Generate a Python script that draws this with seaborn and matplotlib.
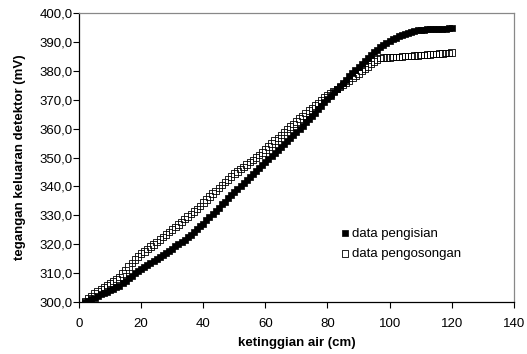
import numpy as np
import pandas as pd
import matplotlib
matplotlib.use("Agg")
import matplotlib.pyplot as plt
import seaborn as sns
from matplotlib.ticker import FuncFormatter

# ---- data ----
height_cm = list(range(2, 121))

filling_mV = [
    300.2, 300.6, 301.0, 301.6, 302.2, 302.7, 303.2, 303.7, 304.2, 304.7,
    305.2, 305.8, 306.6, 307.4, 308.3, 309.1, 310.0, 310.9, 311.6, 312.3,
    313.0, 313.6, 314.3, 315.0, 315.7, 316.4, 317.1, 317.8, 318.5, 319.3,
    320.0, 320.8, 321.6, 322.5, 323.4, 324.3, 325.2, 326.2, 327.2, 328.3,
    329.4, 330.5, 331.6, 332.7, 333.8, 334.8, 335.9, 337.0, 338.0, 339.1,
    340.1, 341.2, 342.2, 343.3, 344.3, 345.4, 346.4, 347.5, 348.5, 349.5,
    350.6, 351.6, 352.6, 353.6, 354.6, 355.7, 356.7, 357.8, 358.8, 359.9,
    361.0, 362.1, 363.2, 364.3, 365.5, 366.7, 367.9, 369.1, 370.2, 371.4,
    372.5, 373.6, 374.7, 375.8, 376.9, 378.0, 379.1, 380.2, 381.3, 382.4,
    383.5, 384.5, 385.5, 386.4, 387.3, 388.1, 388.9, 389.6, 390.2, 390.8,
    391.3, 391.8, 392.3, 392.7, 393.1, 393.4, 393.7, 393.9, 394.1, 394.2,
    394.3, 394.3, 394.4, 394.4, 394.5, 394.5, 394.5, 394.6, 394.6,
]

emptying_mV = [
    300.5, 301.3, 302.2, 303.0, 303.9, 304.6, 305.3, 306.0, 306.6, 307.3,
    308.0, 308.7, 309.9, 311.1, 312.3, 313.5, 314.7, 315.9, 316.8, 317.6,
    318.4, 319.2, 320.0, 320.8, 321.7, 322.5, 323.4, 324.2, 325.1, 326.0,
    326.9, 327.8, 328.7, 329.6, 330.5, 331.4, 332.3, 333.3, 334.4, 335.5,
    336.5, 337.5, 338.5, 339.5, 340.5, 341.5, 342.5, 343.5, 344.4, 345.2,
    346.0, 346.8, 347.6, 348.4, 349.2, 350.0, 350.8, 351.8, 352.8, 353.8,
    354.8, 355.8, 356.8, 357.8, 358.8, 359.8, 360.7, 361.6, 362.5, 363.5,
    364.4, 365.3, 366.2, 367.1, 368.0, 368.9, 369.8, 370.7, 371.5, 372.2,
    372.9, 373.6, 374.3, 375.0, 375.8, 376.6, 377.4, 378.2, 379.0, 379.8,
    380.6, 381.4, 382.3, 383.1, 383.9, 384.4, 384.5, 384.6, 384.6, 384.7,
    384.7, 384.8, 384.9, 385.0, 385.0, 385.1, 385.2, 385.3, 385.4, 385.4,
    385.5, 385.6, 385.7, 385.8, 385.9, 386.0, 386.1, 386.1, 386.2,
]

series_names = ["data pengisian", "data pengosongan"]
x_ticks = [0, 20, 40, 60, 80, 100, 120, 140]
y_ticks = [300, 310, 320, 330, 340, 350, 360, 370, 380, 390, 400]
x_label = "ketinggian air (cm)"
y_label = "tegangan keluaran detektor (mV)"

df_fill = pd.DataFrame({"x": height_cm, "y": filling_mV})
df_empty = pd.DataFrame({"x": height_cm, "y": emptying_mV})

sns.set_style("white")
plt.rcParams["font.family"] = ["Liberation Sans", "DejaVu Sans"]
plt.rcParams["text.color"] = "black"
plt.rcParams["axes.labelcolor"] = "black"
plt.rcParams["xtick.color"] = "black"
plt.rcParams["ytick.color"] = "black"

fig = plt.figure(figsize=(5.27, 3.54), dpi=100)
ax = fig.add_axes([0.150, 0.146, 0.825, 0.818])

sns.scatterplot(data=df_fill, x="x", y="y", ax=ax, marker="s", s=21,
                color="black", edgecolor="black", linewidth=0.5,
                label=series_names[0], zorder=2)
sns.scatterplot(data=df_empty, x="x", y="y", ax=ax, marker="s", s=22,
                facecolors="none", edgecolor="black", linewidth=0.6,
                label=series_names[1], zorder=3)

ax.set_xlim(0, 140)
ax.set_ylim(300, 400)
ax.set_xticks(x_ticks)
ax.set_yticks(y_ticks)
ax.yaxis.set_major_formatter(FuncFormatter(lambda v, p: f"{v:.1f}".replace(".", ",")))
ax.tick_params(axis="both", direction="out", length=4, width=0.8, color="black",
               labelsize=9.5, labelcolor="black", bottom=True, left=True)
ax.tick_params(axis="x", pad=7)
ax.tick_params(axis="y", pad=0.5)

ax.set_xlabel(x_label, fontsize=9.5, fontweight="bold", labelpad=5)
ax.set_ylabel(y_label, fontsize=9.5, fontweight="bold", labelpad=10)

for side in ["left", "bottom"]:
    ax.spines[side].set_color("black")
    ax.spines[side].set_linewidth(0.9)
for side in ["top", "right"]:
    ax.spines[side].set_color("#888888")
    ax.spines[side].set_linewidth(0.9)

leg = ax.legend(loc="upper left", bbox_to_anchor=(0.575, 0.29), frameon=False,
                fontsize=9.5, handletextpad=0.05, borderpad=0.2, labelspacing=0.6,
                handlelength=1.0, markerscale=1.0)

fig.savefig("out.png", dpi=100)
